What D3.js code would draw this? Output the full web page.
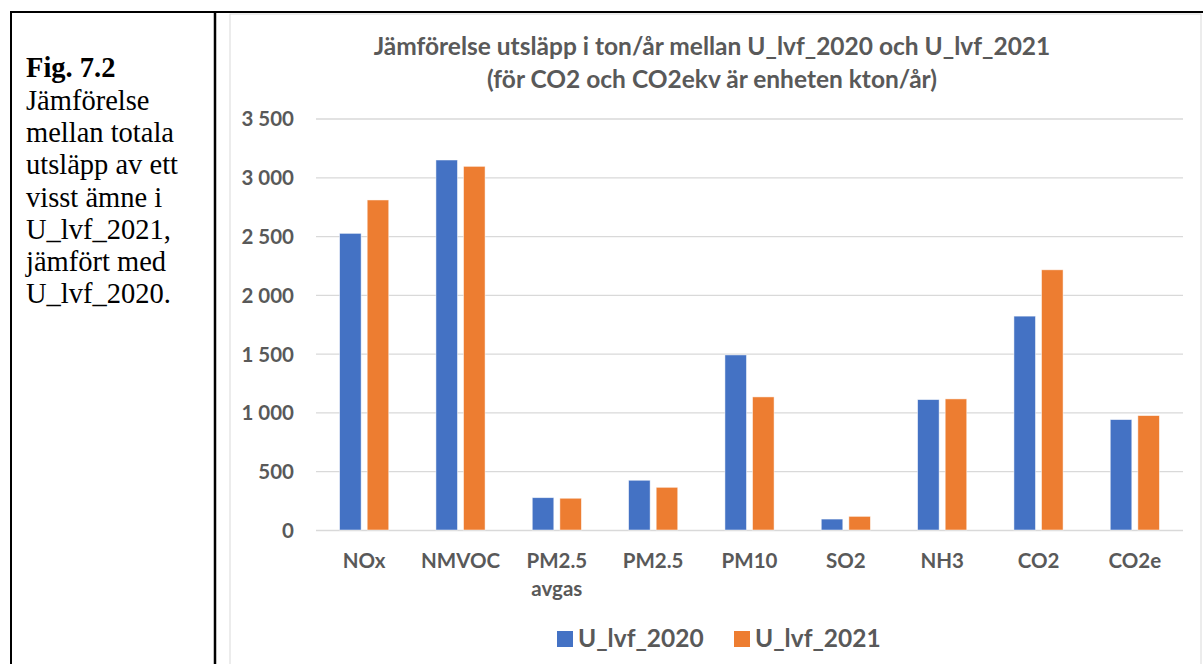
<!DOCTYPE html>
<html>
<head>
<meta charset="utf-8">
<script src="https://cdn.jsdelivr.net/npm/d3@7"></script>
<style>
  html, body { margin: 0; padding: 0; background: #fff; }
  svg { display: block; }
</style>
</head>
<body>
<svg id="chart" width="1203" height="664"></svg>
<script>
// data
const categories = ["NOx", "NMVOC", "PM2.5\navgas", "PM2.5", "PM10", "SO2", "NH3", "CO2", "CO2e"];
const seriesNames = ["U_lvf_2020", "U_lvf_2021"];
const values2020 = [2523, 3147, 275, 423, 1489, 93, 1109, 1819, 939];
const values2021 = [2807, 3093, 270, 363, 1132, 116, 1115, 2213, 973];
const yTicks = [0, 500, 1000, 1500, 2000, 2500, 3000, 3500];
const titleLines = [
    "Jämförelse utsläpp i ton/år mellan U_lvf_2020 och U_lvf_2021",
    "(för CO2 och CO2ekv är enheten kton/år)"
];
const captionBold = "Fig. 7.2";
const captionLines = ["Jämförelse", "mellan totala", "utsläpp av ett", "visst ämne i", "U_lvf_2021,", "jämfört med", "U_lvf_2020."];

const colors = ["#4472C4", "#ED7D31"];
const textColor = "#595959";
const sans = "Lato, 'Open Sans', sans-serif";

const svg = d3.select("#chart");

// table borders round the figure
svg.append("line").attr("x1", 10).attr("x2", 1203).attr("y1", 12).attr("y2", 12)
    .attr("stroke", "#000").attr("stroke-width", 2);
svg.append("line").attr("x1", 11).attr("x2", 11).attr("y1", 11).attr("y2", 664)
    .attr("stroke", "#000").attr("stroke-width", 2);
svg.append("line").attr("x1", 215).attr("x2", 215).attr("y1", 11).attr("y2", 664)
    .attr("stroke", "#000").attr("stroke-width", 2.5);

// caption in the left cell
const cap = svg.append("text")
    .attr("font-family", "'Liberation Serif', 'Times New Roman', serif")
    .attr("font-size", 28.5)
    .attr("fill", "#000");
cap.append("tspan").attr("x", 26).attr("y", 77).attr("font-weight", "bold").text(captionBold);
captionLines.forEach((t, i) => {
    cap.append("tspan").attr("x", 26).attr("y", 110 + i * 32.2).text(t);
});

// chart area frame
svg.append("rect").attr("x", 230).attr("y", 14).attr("width", 971).attr("height", 680)
    .attr("fill", "#fff").attr("stroke", "#d9d9d9").attr("stroke-width", 1);

const margin = { left: 316, right: 1183, top: 118.5, bottom: 530 };

const x0 = d3.scaleBand()
    .domain(categories)
    .range([margin.left, margin.right]);

const groupW = x0.bandwidth() * 0.51;
const x1 = d3.scaleBand()
    .domain(seriesNames)
    .range([0, groupW])
    .paddingInner(0.22);

const y = d3.scaleLinear()
    .domain([0, 3500])
    .range([margin.bottom, margin.top]);

const locale = d3.formatLocale({ decimal: ",", thousands: " ", grouping: [3], currency: ["", " kr"] });
const fmt = locale.format(",d");

// gridlines + y labels
const yAxis = d3.axisLeft(y)
    .tickValues(yTicks)
    .tickSize(-(margin.right - margin.left))
    .tickPadding(22)
    .tickFormat(fmt);

const gy = svg.append("g")
    .attr("transform", `translate(${margin.left},0)`)
    .call(yAxis);
gy.select(".domain").remove();
gy.selectAll(".tick line").attr("stroke", "#d9d9d9").attr("stroke-width", 1.3);
gy.selectAll(".tick text")
    .attr("font-family", sans)
    .attr("font-weight", "bold")
    .attr("font-size", 20.5)
    .attr("fill", textColor)
    .attr("dy", "0.36em");

// bars
const rows = categories.map((c, i) => ({ cat: c, vals: [values2020[i], values2021[i]] }));
const groups = svg.append("g")
    .selectAll("g")
    .data(rows)
    .join("g")
    .attr("transform", d => `translate(${x0(d.cat) + (x0.bandwidth() - groupW) / 2},0)`);

groups.selectAll("rect")
    .data(d => d.vals.map((v, j) => ({ name: seriesNames[j], v, j })))
    .join("rect")
    .attr("x", d => x1(d.name))
    .attr("y", d => y(d.v))
    .attr("width", x1.bandwidth())
    .attr("height", d => y(0) - y(d.v))
    .attr("fill", d => colors[d.j])
    .attr("stroke", "#fff")
    .attr("stroke-opacity", 0.6)
    .attr("stroke-width", 0.8);

// x labels
const xl = svg.append("g")
    .selectAll("text")
    .data(categories)
    .join("text")
    .attr("text-anchor", "middle")
    .attr("font-family", sans)
    .attr("font-weight", "bold")
    .attr("font-size", 20.5)
    .attr("fill", textColor);
xl.each(function (d) {
    const t = d3.select(this);
    d.split("\n").forEach((part, k) => {
        t.append("tspan")
            .attr("x", x0(d) + x0.bandwidth() / 2)
            .attr("y", 568 + k * 28)
            .text(part);
    });
});

// title
svg.append("g")
    .selectAll("text")
    .data(titleLines)
    .join("text")
    .attr("x", 712)
    .attr("y", (d, i) => 55 + i * 33)
    .attr("text-anchor", "middle")
    .attr("font-family", sans)
    .attr("font-weight", "bold")
    .attr("font-size", 24.5)
    .attr("fill", textColor)
    .text(d => d);

// legend
const legendX = [557, 734];
const lg = svg.append("g")
    .selectAll("g")
    .data(seriesNames)
    .join("g")
    .attr("transform", (d, i) => `translate(${legendX[i]},631)`);
lg.append("rect")
    .attr("width", 16).attr("height", 16)
    .attr("fill", (d, i) => colors[i]);
lg.append("text")
    .attr("x", 21)
    .attr("y", 16)
    .attr("font-family", sans)
    .attr("font-weight", "bold")
    .attr("font-size", 24.5)
    .attr("fill", textColor)
    .text(d => d);
</script>
</body>
</html>
